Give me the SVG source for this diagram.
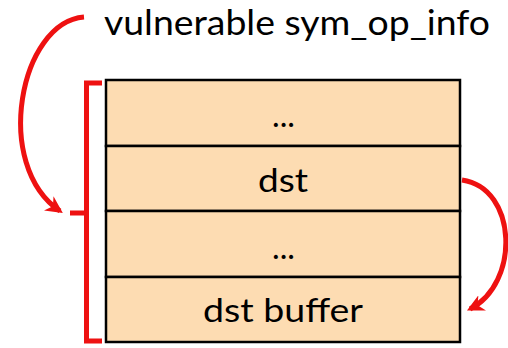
<svg xmlns="http://www.w3.org/2000/svg" width="508" height="348" viewBox="0 0 508 348">
<defs>
<style>
.cell{fill:#fddcb2;stroke:#000;stroke-width:2.5}
.lbl{font-family:Lato,"Liberation Sans",sans-serif;font-size:32px;fill:#000;text-anchor:middle}
.red{fill:none;stroke:#ee1111;stroke-width:5}
</style>
<marker id="ah" viewBox="0 0 10 10" refX="8" refY="5" markerWidth="3.4" markerHeight="3.4" orient="auto" markerUnits="strokeWidth">
<path d="M0,0 L10,5 L0,10 L3,5 z" fill="#ee1111"/>
</marker>
</defs>
<rect width="508" height="348" fill="#fff"/>
<text x="104" y="35" textLength="386" lengthAdjust="spacingAndGlyphs" style="font-family:Lato,'Liberation Sans',sans-serif;font-size:35px;fill:#000">vulnerable sym_op_info</text>
<g id="struct">
<g id="row1"><rect class="cell" x="106" y="80" width="354" height="66"/><text class="lbl" x="283.5" y="127" textLength="23" lengthAdjust="spacingAndGlyphs">...</text></g>
<g id="row2"><rect class="cell" x="106" y="146" width="354" height="65"/><text class="lbl" x="283" y="192" textLength="50" lengthAdjust="spacingAndGlyphs">dst</text></g>
<g id="row3"><rect class="cell" x="106" y="211" width="354" height="66"/><text class="lbl" x="283.5" y="259" textLength="23" lengthAdjust="spacingAndGlyphs">...</text></g>
<g id="row4"><rect class="cell" x="106" y="277" width="354" height="65"/><text class="lbl" x="283" y="322" textLength="160" lengthAdjust="spacingAndGlyphs">dst buffer</text></g>
</g>
<g id="connectors">
<path class="red" d="M102,83 L86.5,83 L86.5,341 L102,341 M86.5,213 L70,213"/>
<path class="red" d="M84,17 C20,22 -8,165 60,211" marker-end="url(#ah)"/>
<path class="red" d="M462,180 C518,188 520,284 470,309" marker-end="url(#ah)"/>
</g>
</svg>
